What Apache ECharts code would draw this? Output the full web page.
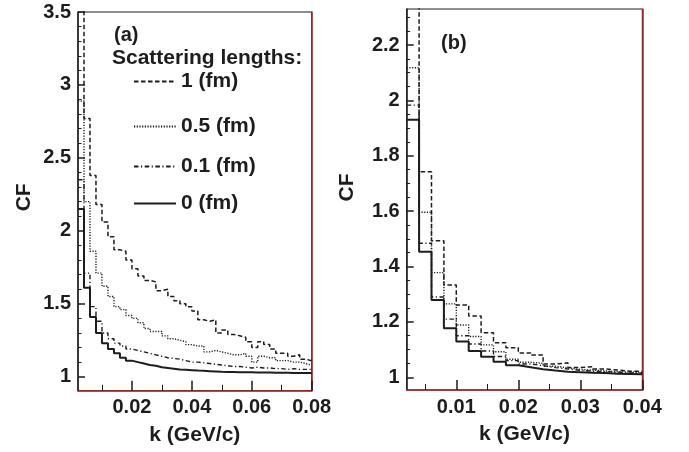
<!DOCTYPE html>
<html>
<head>
<meta charset="utf-8">
<script src="https://cdn.jsdelivr.net/npm/echarts@6/dist/echarts.min.js"></script>
<style>
html,body{margin:0;padding:0;background:#fff;}
#chart{width:689px;height:452px;}
</style>
</head>
<body>
<div id="chart"></div>
<script>
// ---------- data ----------
const edgesA = [0.002,0.004,0.006,0.008,0.010,0.012,0.014,0.016,0.018,0.020,
  0.022,0.024,0.026,0.028,0.030,0.032,0.034,0.036,0.038,0.040,
  0.042,0.044,0.046,0.048,0.050,0.052,0.054,0.056,0.058,0.060,
  0.062,0.064,0.066,0.068,0.070,0.072,0.074,0.076,0.078,0.080];
const a_1fm = [3.9,2.77,2.38,2.18,2.06,1.96,1.87,1.86,1.80,1.74,
  1.69,1.66,1.65,1.59,1.60,1.55,1.52,1.50,1.48,1.45,
  1.39,1.38,1.39,1.30,1.32,1.29,1.28,1.27,1.24,1.20,
  1.24,1.22,1.19,1.16,1.16,1.14,1.15,1.12,1.11];
const a_05fm = [2.89,2.20,1.86,1.71,1.62,1.55,1.48,1.46,1.42,1.40,
  1.37,1.33,1.31,1.31,1.28,1.26,1.25,1.24,1.22,1.21,
  1.21,1.17,1.18,1.17,1.16,1.15,1.15,1.16,1.14,1.10,
  1.14,1.13,1.13,1.11,1.11,1.10,1.10,1.09,1.08];
const a_01fm = [2.35,1.71,1.48,1.38,1.30,1.26,1.23,1.21,1.19,1.18,
  1.17,1.16,1.15,1.14,1.13,1.125,1.12,1.11,1.10,1.10,
  1.095,1.09,1.085,1.08,1.075,1.07,1.07,1.065,1.06,1.065,
  1.06,1.06,1.055,1.055,1.05,1.055,1.05,1.05,1.05];
const a_0fm = [2.15,1.61,1.41,1.30,1.23,1.19,1.16,1.13,1.11,1.10,
  1.09,1.08,1.075,1.065,1.06,1.055,1.05,1.048,1.045,1.042,
  1.04,1.038,1.036,1.034,1.033,1.032,1.031,1.030,1.030,1.029,
  1.028,1.028,1.027,1.027,1.027,1.026,1.026,1.026,1.026];

const edgesB = [0.002,0.004,0.006,0.008,0.010,0.012,0.014,0.016,0.018,0.020,
  0.022,0.024,0.026,0.028,0.030,0.032,0.034,0.036,0.038,0.040];
const b_1fm = [2.45,1.742,1.493,1.333,1.261,1.221,1.161,1.125,1.107,1.088,
  1.080,1.048,1.052,1.035,1.038,1.030,1.026,1.022,1.021];
const b_05fm = [2.118,1.596,1.378,1.265,1.189,1.147,1.117,1.092,1.065,1.054,
  1.050,1.040,1.034,1.028,1.026,1.023,1.020,1.019,1.017];
const b_01fm = [1.983,1.484,1.290,1.210,1.150,1.120,1.095,1.075,1.060,1.048,
  1.042,1.035,1.030,1.025,1.022,1.020,1.018,1.016,1.015];
const b_0fm = [1.930,1.453,1.279,1.177,1.129,1.095,1.074,1.056,1.043,1.036,
  1.029,1.024,1.020,1.018,1.016,1.015,1.013,1.012,1.011];

const seriesNames = ['1 (fm)','0.5 (fm)','0.1 (fm)','0 (fm)'];

// tick labels / tick positions
const xMajorA = [0.02,0.04,0.06,0.08];
const xMinorA = [0.01,0.03,0.05,0.07];
const yMajorA = [1,1.5,2,2.5,3,3.5];
const yMinorA = [1.1,1.2,1.3,1.4,1.6,1.7,1.8,1.9,2.1,2.2,2.3,2.4,2.6,2.7,2.8,2.9,3.1,3.2,3.3,3.4];
const xMajorB = [0.01,0.02,0.03,0.04];
const xMinorB = [0.005,0.015,0.025,0.035];
const yMajorB = [1,1.2,1.4,1.6,1.8,2,2.2];
const yMinorB = [1.05,1.1,1.15,1.25,1.3,1.35,1.45,1.5,1.55,1.65,1.7,1.75,1.85,1.9,1.95,2.05,2.1,2.15,2.25,2.3];

// ---------- chart ----------
const INK = '#1e1c1d';
const RED = '#a3221f';
const FONT = '"Liberation Sans", Arial, sans-serif';

function steps(edges, vals){
  const d = vals.map((v,i)=>[edges[i], v]);
  d.push([edges[vals.length], vals[vals.length-1]]);
  return d;
}
const styles = [
  {type:[4.5,2.5], width:1.5},
  {type:[1.2,1.5], width:1.4},
  {type:[4.5,2.5,1.2,2.5], width:1.4},
  {type:'solid', width:2}
];

function xMain(grid, min, max, major){
  return {type:'value', gridIndex:grid, min:min, max:max, position:'bottom',
    axisLine:{show:true, lineStyle:{color:RED, width:1.5}},
    axisTick:{show:true, inside:true, length:10, customValues:major, lineStyle:{color:INK, width:1.5}},
    axisLabel:{show:true, customValues:major, margin:7, color:INK, fontSize:20, fontWeight:'bold', fontFamily:FONT},
    splitLine:{show:false},
    name:'k (GeV/c)', nameLocation:'middle', nameGap:34,
    nameTextStyle:{color:INK, fontSize:21, fontWeight:'bold', fontFamily:FONT}};
}
function xMinor(grid, min, max, minor){
  return {type:'value', gridIndex:grid, min:min, max:max, position:'bottom',
    axisLine:{show:false},
    axisTick:{show:true, inside:true, length:6, customValues:minor, lineStyle:{color:INK, width:1}},
    axisLabel:{show:false}, splitLine:{show:false}};
}
function yMain(grid, min, max, major, gap, pad){
  return {type:'value', gridIndex:grid, min:min, max:max, position:'left',
    axisLine:{show:true, lineStyle:{color:INK, width:1.5}},
    axisTick:{show:true, inside:true, length:7, customValues:major, lineStyle:{color:INK, width:1.5}},
    axisLabel:{show:true, customValues:major, margin:7, color:INK, fontSize:20, fontWeight:'bold', fontFamily:FONT},
    splitLine:{show:false},
    name:'CF', nameLocation:'middle', nameGap:gap,
    nameTextStyle:{color:INK, fontSize:21, fontWeight:'bold', fontFamily:FONT, padding:pad}};
}
function yMinor(grid, min, max, minor){
  return {type:'value', gridIndex:grid, min:min, max:max, position:'left',
    axisLine:{show:false},
    axisTick:{show:true, inside:true, length:3.5, customValues:minor, lineStyle:{color:INK, width:1}},
    axisLabel:{show:false}, splitLine:{show:false}};
}
function yRight(grid, min, max){
  return {type:'value', gridIndex:grid, min:min, max:max, position:'right',
    axisLine:{show:true, lineStyle:{color:RED, width:1.5}},
    axisTick:{show:false}, axisLabel:{show:false}, splitLine:{show:false}};
}

const dataA = [a_1fm, a_05fm, a_01fm, a_0fm];
const dataB = [b_1fm, b_05fm, b_01fm, b_0fm];
const series = [];
dataA.forEach((vals,i)=>{
  series.push({type:'line', name:seriesNames[i], step:'end', symbol:'none', showSymbol:false, clip:true,
    xAxisIndex:0, yAxisIndex:0, data:steps(edgesA, vals),
    lineStyle:{color:INK, width:styles[i].width, type:styles[i].type}, itemStyle:{color:INK}});
});
dataB.forEach((vals,i)=>{
  series.push({type:'line', name:seriesNames[i], step:'end', symbol:'none', showSymbol:false, clip:true,
    xAxisIndex:2, yAxisIndex:3, data:steps(edgesB, vals),
    lineStyle:{color:INK, width:styles[i].width, type:styles[i].type}, itemStyle:{color:INK}});
});

const legendTops = [71, 116, 156, 193];
const legends = seriesNames.map((n,i)=>({
  data:[n], left:133, top:legendTops[i], orient:'vertical', padding:0,
  itemWidth:42, itemHeight:12, selectedMode:false,
  itemStyle:{opacity:0, borderWidth:0},
  textStyle:{color:INK, fontSize:21, fontWeight:'bold', fontFamily:FONT}
}));

const chart = echarts.init(document.getElementById('chart'), null, {renderer:'canvas'});
chart.setOption({
  animation:false,
  backgroundColor:'#fff',
  grid:[
    {left:78, top:12, width:233.7, height:378.7, show:true, borderColor:INK, borderWidth:1, backgroundColor:'#fff'},
    {left:406.7, top:9, width:235.6, height:381, show:true, borderColor:INK, borderWidth:1, backgroundColor:'#fff'}
  ],
  xAxis:[
    xMain(0, 0.002, 0.08, xMajorA),
    xMinor(0, 0.002, 0.08, xMinorA),
    xMain(1, 0.002, 0.04, xMajorB),
    xMinor(1, 0.002, 0.04, xMinorB)
  ],
  yAxis:[
    yMain(0, 0.904, 3.5, yMajorA, 43, [0,0,0,8]),
    yMinor(0, 0.904, 3.5, yMinorA),
    yRight(0, 0.904, 3.5),
    yMain(1, 0.954, 2.33, yMajorB, 49, [0,0,0,24]),
    yMinor(1, 0.954, 2.33, yMinorB),
    yRight(1, 0.954, 2.33)
  ],
  legend:legends,
  graphic:[
    {type:'text', style:{text:'(a)', x:114, y:35, verticalAlign:'middle', fill:INK, font:'bold 20px ' + FONT}},
    {type:'text', style:{text:'Scattering lengths:', x:112, y:58, verticalAlign:'middle', fill:INK, font:'bold 21px ' + FONT}},
    {type:'text', style:{text:'(b)', x:441, y:43, verticalAlign:'middle', fill:INK, font:'bold 20px ' + FONT}}
  ],
  series:series
});
</script>
</body>
</html>
